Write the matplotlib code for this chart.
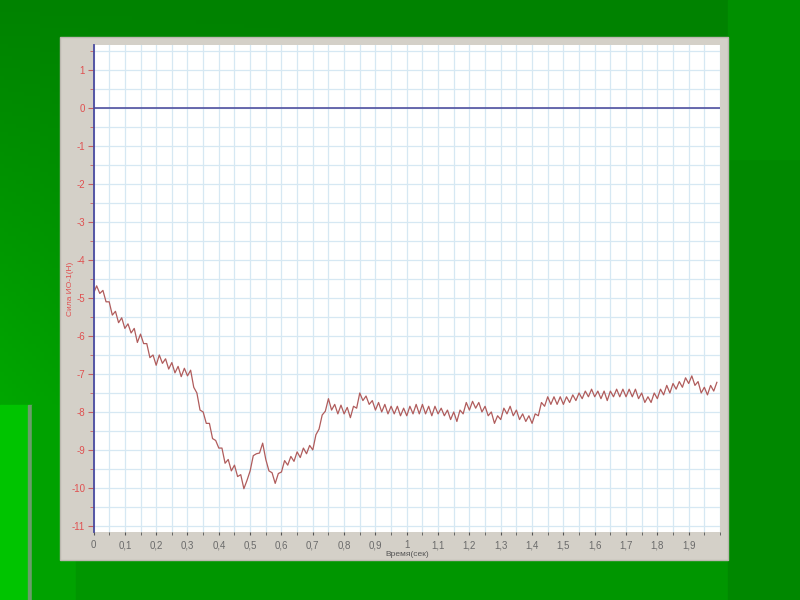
import numpy as np
import matplotlib
matplotlib.use('Agg')
import matplotlib.pyplot as plt
from matplotlib.ticker import FuncFormatter, MultipleLocator
from matplotlib.patches import Rectangle

plt.rcParams['font.family'] = ['Liberation Sans', 'DejaVu Sans']
plt.rcParams['axes.unicode_minus'] = False

# время, с (шаг 0.01)
t = np.round(np.arange(0, 2.0, 0.01), 2)

# сила ИО-1, Н (по 10 точек на строку = 0.1 с)
force = [
    -4.88, -4.68, -4.88, -4.80, -5.10, -5.10, -5.45, -5.35, -5.65, -5.52,
    -5.80, -5.68, -5.92, -5.80, -6.17, -5.95, -6.20, -6.20, -6.57, -6.50,
    -6.77, -6.50, -6.72, -6.60, -6.87, -6.70, -6.97, -6.80, -7.07, -6.85,
    -7.05, -6.90, -7.35, -7.50, -7.95, -8.00, -8.30, -8.30, -8.70, -8.75,
    -8.95, -8.95, -9.35, -9.25, -9.55, -9.40, -9.70, -9.65, -10.02, -9.80,
    -9.55, -9.15, -9.10, -9.08, -8.82, -9.25, -9.55, -9.60, -9.88, -9.62,
    -9.58, -9.28, -9.40, -9.17, -9.30, -9.05, -9.20, -8.95, -9.10, -8.88,
    -9.00, -8.60, -8.45, -8.08, -7.98, -7.65, -7.95, -7.80, -8.05, -7.82,
    -8.05, -7.88, -8.15, -7.85, -7.90, -7.50, -7.70, -7.58, -7.80, -7.70,
    -7.95, -7.75, -8.00, -7.80, -8.05, -7.85, -8.05, -7.85, -8.10, -7.90,
    -8.10, -7.85, -8.05, -7.80, -8.05, -7.80, -8.05, -7.85, -8.10, -7.85,
    -8.05, -7.90, -8.10, -7.95, -8.20, -8.00, -8.25, -7.95, -8.05, -7.75,
    -7.95, -7.72, -7.90, -7.75, -8.00, -7.85, -8.10, -8.00, -8.30, -8.10,
    -8.20, -7.90, -8.05, -7.85, -8.10, -7.95, -8.20, -8.05, -8.25, -8.10,
    -8.30, -8.05, -8.10, -7.75, -7.85, -7.60, -7.80, -7.60, -7.80, -7.60,
    -7.80, -7.60, -7.75, -7.55, -7.70, -7.50, -7.65, -7.45, -7.60, -7.40,
    -7.60, -7.45, -7.65, -7.45, -7.70, -7.45, -7.60, -7.40, -7.60, -7.40,
    -7.60, -7.40, -7.60, -7.40, -7.65, -7.50, -7.75, -7.60, -7.75, -7.50,
    -7.65, -7.40, -7.55, -7.30, -7.50, -7.25, -7.40, -7.20, -7.35, -7.10,
    -7.25, -7.05, -7.30, -7.20, -7.50, -7.35, -7.55, -7.30, -7.45, -7.22,
]

x_ticks = [0, 0.1, 0.2, 0.3, 0.4, 0.5, 0.6, 0.7, 0.8, 0.9,
           1.0, 1.1, 1.2, 1.3, 1.4, 1.5, 1.6, 1.7, 1.8, 1.9]
y_ticks = [1, 0, -1, -2, -3, -4, -5, -6, -7, -8, -9, -10, -11]

fig = plt.figure(figsize=(8, 6), dpi=100)

# зелёный фон слайда
bg = fig.add_axes([0, 0, 1, 1])
bg.axis('off')
u = np.linspace(0, 1, 200)[None, :]
w = np.linspace(0, 1, 150)[:, None]
g = 130 + 55 * w * (1 - u) ** 2.2
img = np.zeros((150, 200, 3))
img[..., 1] = g / 255
bg.imshow(img, extent=[0, 1, 0, 1], aspect='auto', origin='upper')
bg.add_patch(Rectangle((0, 0), 0.035, 0.325, color='#00c400'))
bg.add_patch(Rectangle((0.035, 0), 0.005, 0.325, color='#6a9e6a'))
bg.add_patch(Rectangle((0.04, 0), 0.055, 0.325, color='#00a200'))
bg.add_patch(Rectangle((0.095, 0), 0.815, 0.0667, color='#009600'))
bg.add_patch(Rectangle((0.91, 0), 0.09, 0.735, color='#008800'))
bg.add_patch(Rectangle((0.91, 0.735), 0.09, 0.265, color='#008f00'))
bg.set_xlim(0, 1)
bg.set_ylim(0, 1)

# серая панель графика
bg.add_patch(Rectangle((0.075, 0.0667), 0.835, 0.872, facecolor='#d4d0c8',
                       edgecolor='#bcb8b0', lw=1))

ax = fig.add_axes([0.1169, 0.1133, 0.7831, 0.8117])
ax.set_facecolor('white')
ax.set_xlim(0, 2.0)
ax.set_ylim(-11.16, 1.66)

ax.set_xticks(x_ticks)
ax.set_yticks(y_ticks)
ax.xaxis.set_minor_locator(MultipleLocator(0.05))
ax.yaxis.set_minor_locator(MultipleLocator(0.5))
ax.xaxis.set_major_formatter(FuncFormatter(lambda v, p: ('%g' % v).replace('.', ',')))
ax.yaxis.set_major_formatter(FuncFormatter(lambda v, p: '%d' % v))

ax.grid(which='both', color='#d6e8f3', lw=0.9)
ax.set_axisbelow(True)

for s in ['top', 'right', 'bottom']:
    ax.spines[s].set_visible(False)
ax.spines['left'].set_color('#4a4aa0')
ax.spines['left'].set_linewidth(1.3)

ax.tick_params(axis='x', which='major', length=2.5, color='#555555',
               labelsize=7, labelcolor='#6a6a6a', pad=3.5)
ax.tick_params(axis='x', which='minor', length=2, color='#555555')
ax.tick_params(axis='y', which='major', length=4.5, color='#c86060',
               labelsize=7, labelcolor='#e05050', pad=1.5)
ax.tick_params(axis='y', which='minor', length=3, color='#c86060')

ax.axhline(0, color='#5050a0', lw=1.2)
ax.plot(t, force, color='#b05c5c', lw=0.9)

ax.set_xlabel('Время(сек)', fontsize=6, color='#555555')
ax.xaxis.set_label_coords(0.5, -0.039)
ax.set_ylabel('Сила ИО-1(Н)', fontsize=6, color='#e05050')
ax.yaxis.set_label_coords(-0.031, 0.5)

fig.savefig('out.png', dpi=100)
